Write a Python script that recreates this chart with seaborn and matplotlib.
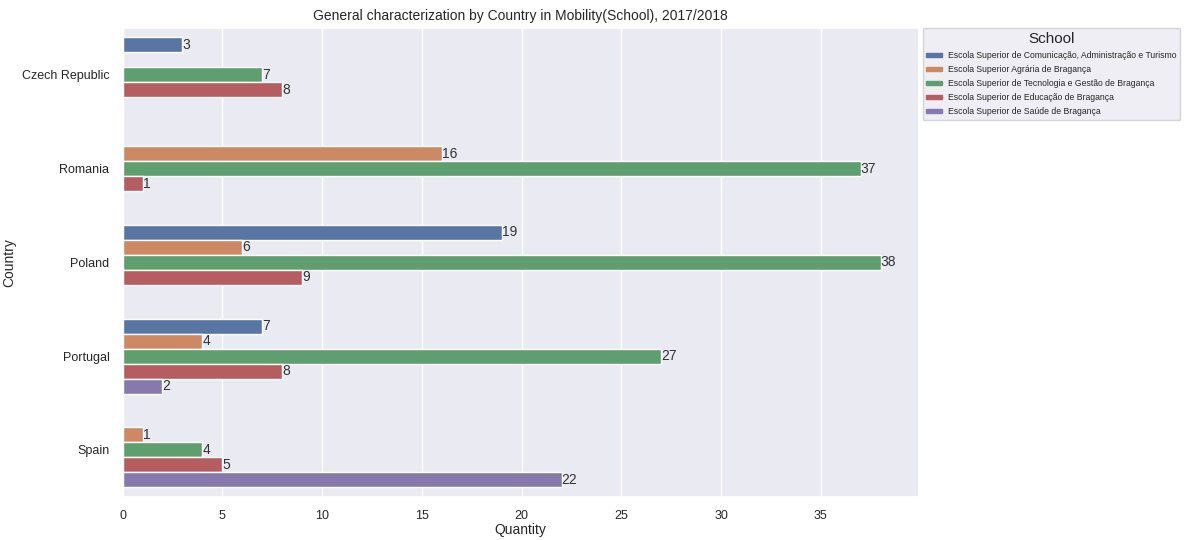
import numpy as np
import pandas as pd
import matplotlib
matplotlib.use("Agg")
import matplotlib.pyplot as plt
import seaborn as sns

# Data
countries = ["Czech Republic", "Romania", "Poland", "Portugal", "Spain"]
schools = [
    "Escola Superior de Comunicação, Administração e Turismo",
    "Escola Superior Agrária de Bragança",
    "Escola Superior de Tecnologia e Gestão de Bragança",
    "Escola Superior de Educação de Bragança",
    "Escola Superior de Saúde de Bragança",
]
# one list per school, in country order (nan = no students)
escat = [3, np.nan, 19, 7, np.nan]
esa = [np.nan, 16, 6, 4, 1]
estig = [7, 37, 38, 27, 4]
ese = [8, 1, 9, 8, 5]
essa = [np.nan, np.nan, np.nan, 2, 22]

rows = []
for school, vals in zip(schools, [escat, esa, estig, ese, essa]):
    for country, v in zip(countries, vals):
        if not np.isnan(v):
            rows.append({"Country": country, "School": school, "Quantity": v})
df = pd.DataFrame(rows)

sns.set_theme(style="darkgrid")
plt.rcParams["font.family"] = ["Liberation Sans", "DejaVu Sans"]
fig, ax = plt.subplots(figsize=(11.9, 5.4), dpi=100)
sns.barplot(data=df, y="Country", x="Quantity", hue="School",
            order=countries, hue_order=schools, orient="h", ax=ax)

for c in ax.containers:
    ax.bar_label(c, fmt="%g", fontsize=10, color="#333333", padding=0)

ax.set_title("General characterization by Country in Mobility(School), 2017/2018", fontsize=10)
ax.set_xlabel("Quantity", fontsize=10, labelpad=1)
ax.set_ylabel("Country", fontsize=10)
ax.tick_params(labelsize=9)
leg = ax.legend(title="School", bbox_to_anchor=(1.005, 1), loc="upper left",
                fontsize=6.2, title_fontsize=11, borderaxespad=0,
                handlelength=1.8, handleheight=0.35, labelspacing=0.6)
for h in leg.legend_handles:
    h.set_edgecolor(h.get_facecolor())

plt.subplots_adjust(left=0.103, right=0.772, top=0.948, bottom=0.08)
plt.savefig("out.png", dpi=100)
